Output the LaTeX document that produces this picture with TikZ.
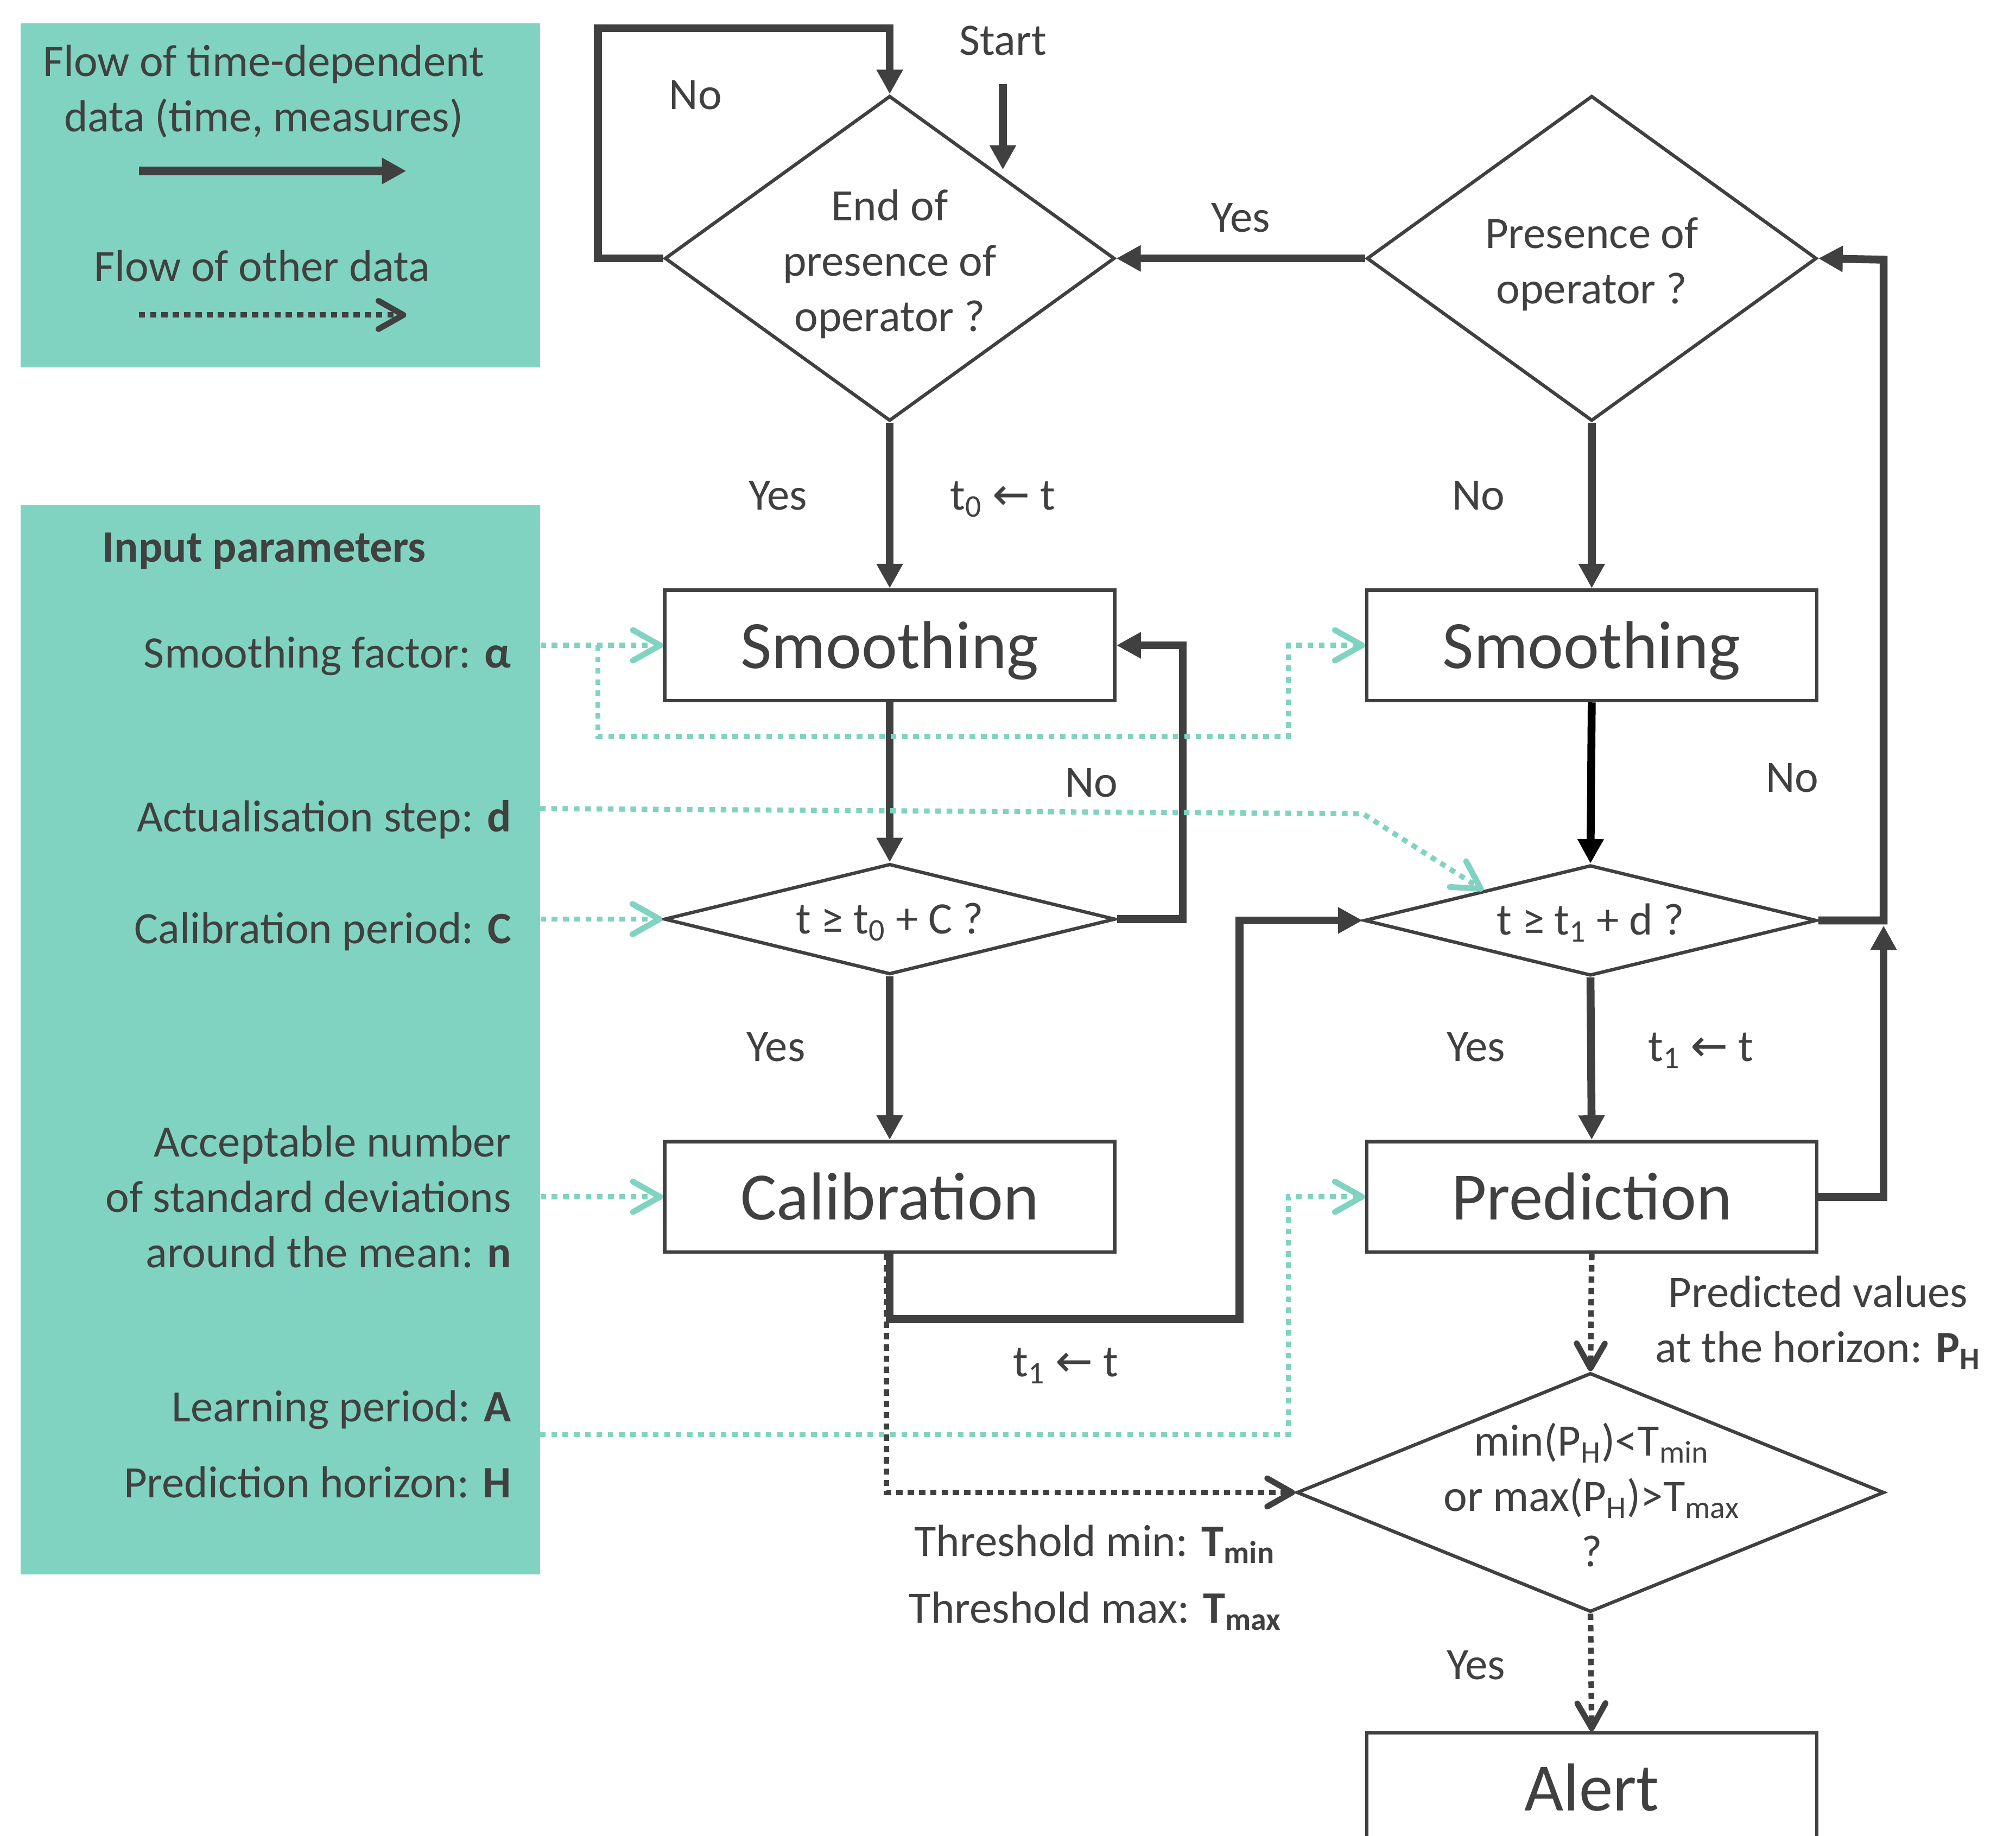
\documentclass[tikz,border=0pt]{standalone}
\usepackage{fontspec}
\setmainfont{Carlito}
\newfontfamily\arrowfont{DejaVu Sans}
\usetikzlibrary{positioning,arrows.meta,shapes.geometric,calc}
\definecolor{ink}{RGB}{64,64,64}
\definecolor{mint}{RGB}{128,211,192}
\newcommand{\lowidx}[1]{\textsubscript{#1}}
\newcommand{\getsarrow}{{\arrowfont ←}}

\begin{document}
\begin{tikzpicture}[x=0.02cm,y=-0.02cm,
    txt/.style={text=ink,inner sep=0pt,font=\fontsize{19.9}{24.5}\selectfont},
    bigtxt/.style={text=ink,inner sep=0pt,font=\fontsize{30}{36}\selectfont},
    panel/.style={fill=mint,draw=none,inner sep=0pt},
    stepbox/.style={bigtxt,draw=ink,line width=1.6pt,rectangle,minimum width=7cm,minimum height=1.72cm,text height=22pt,text depth=1.8pt},
    decision/.style={txt,draw=ink,line width=1.5pt,diamond,align=center},
    flow/.style={draw=ink,line width=3.5pt,-{Triangle[length=10.8pt,width=11pt]}},
    datadot/.style={draw=ink,line width=2.5pt,dash pattern=on 2.8pt off 2.2pt,-{Straight Barb[length=11pt,width=12.5pt,round,line width=2.6pt]}},
    param/.style={draw=mint,line width=2.3pt,dash pattern=on 2.5pt off 2.5pt,-{Straight Barb[length=12pt,width=13.5pt,round,line width=2.6pt]}}]

          \path[fill=white,use as bounding box] (0,0) rectangle (1568,1428);
          \clip (0,0) rectangle (1568,1428);

          \draw (218,152) node[panel,minimum width=8.08cm,minimum height=5.36cm] (legendbox) {};

          \draw (218,809) node[panel,minimum width=8.08cm,minimum height=16.64cm] (parambox) {};

          \draw (205,71) node[txt,align=center] (solidtxt) {Flow of time-dependent\\data (time, measures)};

          \draw (204,219) node[txt,anchor=base] (dottxt) {Flow of other data};

          \coordinate (solida) at (108,133);
          \coordinate (solidb) at (316,133);
          \coordinate (dota) at (108,245);
          \coordinate (dotb) at (316,245);

          \draw[flow,line width=3.75pt] (solida) to (solidb);

          \draw[datadot,line width=2.4pt] (dota) to (dotb);

          \draw (205.5,437.3) node[txt,anchor=base] (inputhead) {\textbf{Input parameters}};

          \draw (398,519.4) node[txt,anchor=base east] (alphatxt) {Smoothing factor: \textbf{α}};

          \draw (398,647) node[txt,anchor=base east] (steptxt) {Actualisation step: \textbf{d}};

          \draw (398,734) node[txt,anchor=base east] (caltxt) {Calibration period: \textbf{C}};

          \draw (398,931) node[txt,anchor=east,align=right] (devtxt)
          {Acceptable number\\of standard deviations\\around the mean: \textbf{n}};

          \draw (398,1106) node[txt,anchor=base east] (learntxt) {Learning period: \textbf{A}};

          \draw (398,1165) node[txt,anchor=base east] (horiztxt) {Prediction horizon: \textbf{H}};

          \draw (780,43) node[txt,anchor=base] (start) {Start};

          \draw (692,201) node[decision,shape aspect=1.38,minimum width=7cm,minimum height=5.06cm] (endop)
          {\rule{0pt}{18.9pt}End of\\presence of\\operator ?};

          \draw (1238,201) node[decision,shape aspect=1.38,minimum width=7cm,minimum height=5.06cm] (presop)
          {\rule{0pt}{18.9pt}Presence of\\operator ?};

          \draw (692,502) node[stepbox] (smooth1) {Smoothing};

          \draw (1238,502) node[stepbox] (smooth2) {Smoothing};

          \draw (692,715) node[decision,shape aspect=4,minimum width=7.02cm,minimum height=1.72cm] (calcheck)
          {\rule{0pt}{16pt}t ≥ t\lowidx{0} + C ?};

          \draw (1237,716) node[decision,shape aspect=4,minimum width=7.04cm,minimum height=1.72cm] (predcheck)
          {\rule{0pt}{16pt}t ≥ t\lowidx{1} + d ?};

          \draw (692,931) node[stepbox] (calib) {Calibration};

          \draw (1238,931) node[stepbox] (predict) {Prediction};

          \draw (1237,1161) node[decision,minimum width=9.14cm,minimum height=3.72cm] (alarm) {};

          \draw (1238,1163) node[txt,align=center] (alarmtxt)
          {min(P\lowidx{H})<T\lowidx{min}\\or max(P\lowidx{H})>T\lowidx{max}\\?};

          \draw (1238,1391) node[stepbox] (alert) {Alert};

          \draw (541,85) node[txt,anchor=base] (noloop) {No};

          \draw (965,180.5) node[txt,anchor=base] (yestop) {Yes};

          \draw (605,396.5) node[txt,anchor=base] (yesend) {Yes};

          \draw (780,396.5) node[txt,anchor=base] (tzeroset) {t\lowidx{0} \getsarrow{} t};

          \draw (1150,396.5) node[txt,anchor=base] (nopres) {No};

          \draw (849,620) node[txt,anchor=base] (nocal) {No};

          \draw (1394,616) node[txt,anchor=base] (nopred) {No};

          \draw (603.5,825.4) node[txt,anchor=base] (yescal) {Yes};

          \draw (1148,825.4) node[txt,anchor=base] (yespred) {Yes};

          \draw (1323,825.4) node[txt,anchor=base] (toneset) {t\lowidx{1} \getsarrow{} t};

          \draw (829,1070.7) node[txt,anchor=base] (tonecal) {t\lowidx{1} \getsarrow{} t};

          \draw (1414,1029) node[txt,align=center] (phtxt)
          {Predicted values\\at the horizon: \textbf{P\lowidx{H}}};

          \draw (851.5,1210.6) node[txt,anchor=base] (tmintxt) {Threshold min: \textbf{T\lowidx{min}}};

          \draw (852,1262.5) node[txt,anchor=base] (tmaxtxt) {Threshold max: \textbf{T\lowidx{max}}};

          \draw (1148,1306.5) node[txt,anchor=base] (yesalarm) {Yes};

          \coordinate (startin) at (780,132);
          \coordinate (predback) at (1465,720);

          \draw[flow] ([yshift=-0.44cm]start.south) to (startin);

          \draw[flow] (endop.west) -| (465,22) -| (endop.north);

          \draw[flow] (presop.west) to (endop.east);

          \draw[flow] (endop.south) to (smooth1.north);

          \draw[flow] (presop.south) to (smooth2.north);

          \draw[flow] (smooth1.south) to (calcheck.north);

          \draw[flow] (calcheck.east) -| (920,502) to (smooth1.east);

          \draw[flow] (calcheck.south) to (calib.north);

          \draw[flow] (calib.south) |- (964,1026) |- (predcheck.west);

          \draw[flow,draw=black] (smooth2.south) to (predcheck.north);

          \draw[flow] (predcheck.east) -| (1465,202) to (presop.east);

          \draw[flow] (predcheck.south) to (predict.north);

          \draw[flow] (predict.east) -| (predback);

          \draw[datadot] (predict.south) to (alarm.north);

          \draw[datadot] ([xshift=-0.05cm]calib.south) |- (alarm.west);

          \draw[datadot] (alarm.south) to (alert.north);

          \coordinate (alphasplit) at (465,502);
          \coordinate (stepout) at (420,629);
          \coordinate (learnout) at (420,1116);

          \draw[param] (parambox.east |- smooth1) to (smooth1.west);

          \draw[param] (alphasplit) |- (1002,573) |- (smooth2.west);

          \draw[param] (stepout) -- (1060,633) -- ($(predcheck.west)!0.53!(predcheck.north)$);

          \draw[param] (parambox.east |- calcheck) to (calcheck.west);

          \draw[param] (parambox.east |- calib) to (calib.west);

          \draw[param] (learnout) -| (1002,931) to (predict.west);
        \end{tikzpicture}
\end{document}
